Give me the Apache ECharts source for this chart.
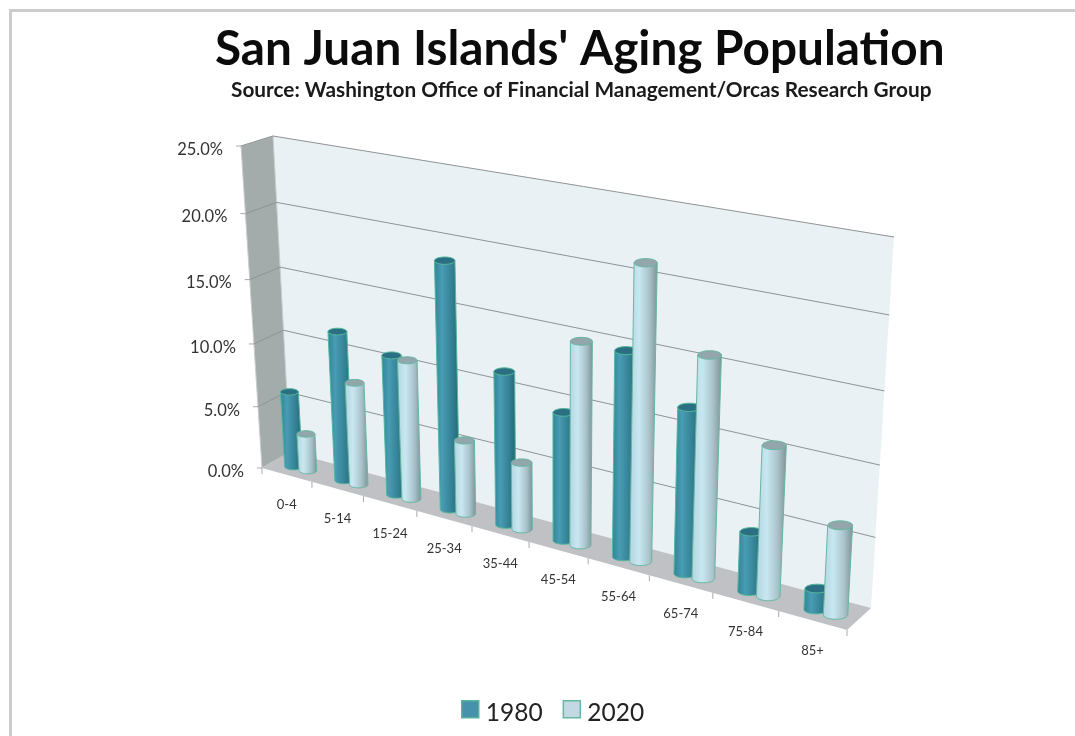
<!DOCTYPE html>
<html><head><meta charset="utf-8">
<style>html,body{margin:0;padding:0;background:#fff}#c{width:1075px;height:736px;filter:blur(0.7px)}</style>
<script src="https://cdn.jsdelivr.net/npm/echarts@6/dist/echarts.min.js"></script>
</head><body><div id="c"></div>
<script>
const categories = ['0-4','5-14','15-24','25-34','35-44','45-54','55-64','65-74','75-84','85+'];
const series1980 = [6.1,11.8,10.9,18.8,11.6,9.6,15.0,12.0,4.3,1.5];
const series2020 = [3.0,8.1,10.8,5.7,5.1,15.0,21.3,15.9,10.7,6.3];
const valueTicks = [0,5,10,15,20,25];
const valueLabels = ['0.0%','5.0%','10.0%','15.0%','20.0%','25.0%'];

// oblique view: corners of the plot box on screen [x,y]
const BOX = {
  backBottomL:[290,452], backBottomR:[871,608], backTopL:[273,136], backTopR:[894,237],
  frontBottomL:[262,468], frontBottomR:[847,630], frontTopL:[241,146], frontTopR:[866,253]
};
const persp = (a,w)=> a*w/(a*w+1-a);
const mix = (p,q,k)=>[p[0]+(q[0]-p[0])*k, p[1]+(q[1]-p[1])*k];
function project(t,d,f){
  const s=persp(t,0.84), g=persp(f,0.94);
  const bb=mix(BOX.backBottomL,BOX.backBottomR,s), bt=mix(BOX.backTopL,BOX.backTopR,s);
  const fb=mix(BOX.frontBottomL,BOX.frontBottomR,s), ft=mix(BOX.frontTopL,BOX.frontTopR,s);
  return mix(mix(bb,bt,g),mix(fb,ft,g),d);
}
function norm(params,api,cat,val){
  const c=api.coord([cat,val]), r=params.coordSys;
  return [(c[0]-r.x)/r.width,(r.y+r.height-c[1])/r.height];
}
function hgrad(stops){return new echarts.graphic.LinearGradient(0,0,1,0,stops.map((c,i)=>({offset:c[0],color:c[1]})));}
function ell(c,rx,ry,from,to){const out=[];const n=24;for(let i=0;i<=n;i++){const a=from+(to-from)*i/n;out.push([c[0]+rx*Math.cos(a),c[1]+ry*Math.sin(a)]);}return out;}

function cylinder(sign,grad,topFill,stroke){
  return function(params,api){
    const cat=api.value(0), val=api.value(1);
    const n=norm(params,api,cat,val), z=norm(params,api,cat,0);
    const offs=0.0143*sign+0.0045, R=0.0178, D=0.58;
    const tc=z[0]+offs;
    const b=project(tc,D,0), t=project(tc,D,n[1]);
    const rb=(project(tc+R,D,0)[0]-project(tc-R,D,0)[0])/2;
    const rt=(project(tc+R,D,n[1])[0]-project(tc-R,D,n[1])[0])/2;
    const K=0.36;
    const body=[[t[0]-rt,t[1]]].concat(ell(b,rb,rb*K,Math.PI,0)).concat([[t[0]+rt,t[1]]]);
    return {type:'group',children:[
      {type:'polygon',shape:{points:body},style:{fill:hgrad(grad),stroke:stroke,lineWidth:1}},
      {type:'polygon',shape:{points:ell(t,rt,rt*K,0,Math.PI*2)},style:{fill:topFill,stroke:stroke,lineWidth:1}}
    ]};
  };
}
const darkGrad=[[0,'#2f8497'],[0.3,'#489cb3'],[0.7,'#337f92'],[1,'#1d6670']];
const lightGrad=[[0,'#b2d5e0'],[0.35,'#c8e7f1'],[0.7,'#aac3cb'],[1,'#7d9195']];
const swatch='path://M0 0H17V17H0Z M0 25Z';

const chart=echarts.init(document.getElementById('c'),null,{renderer:'canvas'});
chart.setOption({
  animation:false,
  backgroundColor:'#fff',
  title:[
    {text:"San Juan Islands' Aging Population",left:210,top:21,
     textStyle:{fontFamily:'Lato',fontWeight:'bold',fontSize:47.7,color:'#0b0b0b'}},
    {text:'Source: Washington Office of Financial Management/Orcas Research Group',left:226,top:75,
     textStyle:{fontFamily:'Lato',fontWeight:'bold',fontSize:20.8,color:'#1a1a1a'}}
  ],
  graphic:[
    {type:'rect',shape:{x:9,y:9,width:1066,height:3},style:{fill:'#cccccc'},silent:true},
    {type:'rect',shape:{x:9,y:9,width:3,height:727},style:{fill:'#cccccc'},silent:true}
  ],
  legend:{left:456,top:695,itemWidth:17,itemHeight:25,itemGap:20,icon:swatch,
    textStyle:{fontFamily:'Lato',fontSize:24.5,color:'#222',padding:[0,0,0,2]},
    data:[
      {name:'1980',itemStyle:{color:'#4692ad',borderColor:'#58b39b',borderWidth:1.5}},
      {name:'2020',itemStyle:{color:'#c2d9e4',borderColor:'#66b8a2',borderWidth:1.5}}
    ]},
  grid:{left:100,right:100,top:100,bottom:100},
  xAxis:{type:'category',data:categories,show:false},
  yAxis:{type:'value',min:0,max:25,interval:5,show:false},
  series:[
    {name:'walls',type:'custom',coordinateSystem:'cartesian2d',clip:false,silent:true,z:1,
     data:valueTicks.map((v,i)=>[0,v,i]),encode:{x:0,y:1},
     renderItem(params,api){
       const val=api.value(1), f=norm(params,api,0,val)[1];
       const kids=[];
       if(val===0){
         kids.push({type:'polygon',shape:{points:[project(0,0,0),project(1,0,0),project(1,0,1),project(0,0,1)]},style:{fill:'#e9f1f5'}});
         kids.push({type:'polygon',shape:{points:[project(0,1,0),project(0,0,0),project(0,0,1),project(0,1,1)]},
           style:{fill:'#a3abab',stroke:'#c9cccc',lineWidth:1}});
         kids.push({type:'polygon',shape:{points:[project(0,1,0),project(1,1,0),project(1,0,0),project(0,0,0)]},style:{fill:'#bfc1c4'}});
       }
       const a=project(0,1,f), b=project(0,0,f), c=project(1,0,f);
       if(val!==0){
         kids.push({type:'polyline',shape:{points:[a,b,c]},style:{stroke:'#8f9494',lineWidth:1,fill:null}});
       }
       kids.push({type:'line',shape:{x1:a[0]-5,y1:a[1],x2:a[0],y2:a[1]},style:{stroke:'#aaaaaa',lineWidth:1}});
       kids.push({type:'text',style:{text:valueLabels[api.value(2)],x:a[0]-18,y:a[1]+3.5,align:'right',verticalAlign:'middle',
         fontFamily:'Lato',fontSize:16.5,fill:'#333'}});
       return {type:'group',children:kids};
     }},
    {name:'ticks',type:'custom',coordinateSystem:'cartesian2d',clip:false,silent:true,z:2,
     data:categories.map((c,i)=>[i,0]),encode:{x:0,y:1},
     renderItem(params,api){
       const i=api.value(0), z=norm(params,api,i,0);
       const half=0.05;
       const e=project(z[0]+half,1,0), l=project(z[0],1,0);
       const kids=[
         {type:'line',shape:{x1:e[0],y1:e[1],x2:e[0],y2:e[1]+6},style:{stroke:'#aaaaaa',lineWidth:1}},
         {type:'text',style:{text:categories[i],x:l[0],y:l[1]+30,align:'center',verticalAlign:'middle',fontFamily:'Lato',fontSize:13,fill:'#333'}}
       ];
       if(i===0){const e0=project(z[0]-half,1,0);kids.push({type:'line',shape:{x1:e0[0],y1:e0[1],x2:e0[0],y2:e0[1]+6},style:{stroke:'#aaaaaa',lineWidth:1}});}
       return {type:'group',children:kids};
     }},
    {name:'1980',type:'custom',coordinateSystem:'cartesian2d',clip:false,z:3,
     itemStyle:{color:'#4692ad'},
     data:series1980.map((v,i)=>[i,v]),encode:{x:0,y:1},
     renderItem:cylinder(-1,darkGrad,'#2a7082','#55b79c')},
    {name:'2020',type:'custom',coordinateSystem:'cartesian2d',clip:false,z:4,
     itemStyle:{color:'#c2d9e4'},
     data:series2020.map((v,i)=>[i,v]),encode:{x:0,y:1},
     renderItem:cylinder(1,lightGrad,'#93a6ab','#66b8a2')}
  ]
});
</script></body></html>
